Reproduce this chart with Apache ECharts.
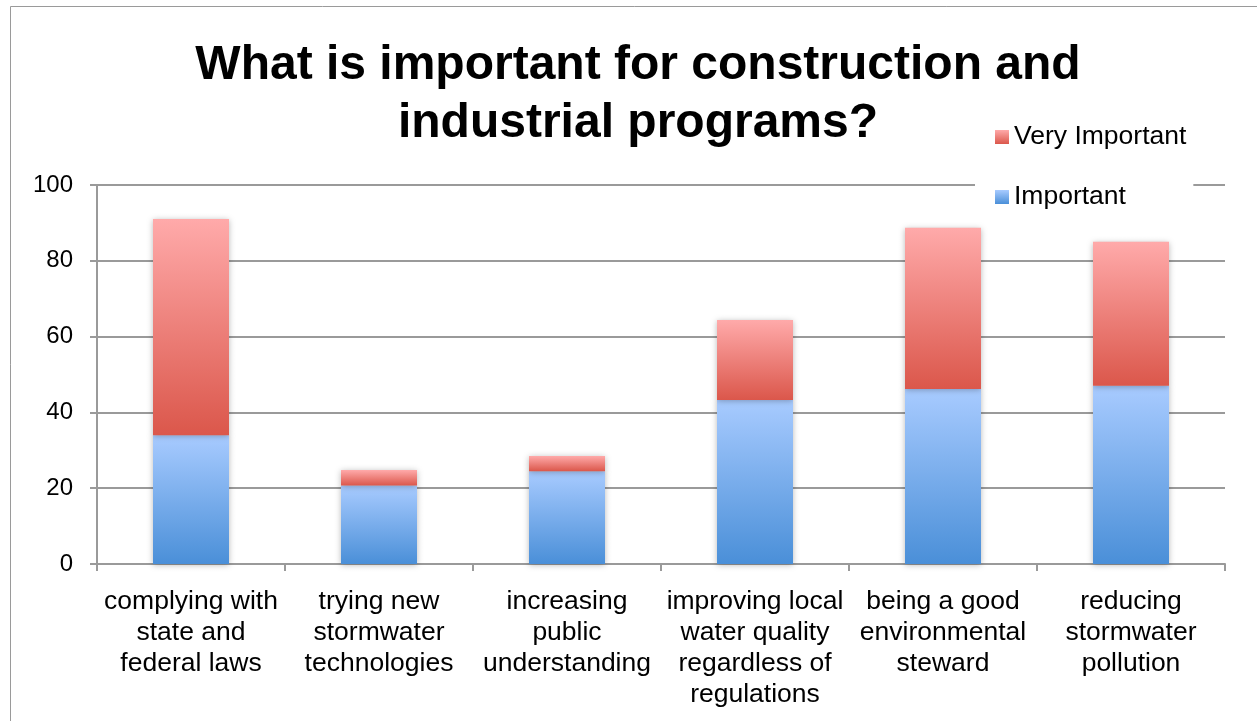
<!DOCTYPE html>
<html>
<head>
<meta charset="utf-8">
<style>
  html, body { margin: 0; padding: 0; background: #ffffff; }
  #chart { width: 1257px; height: 721px; }
</style>
<script src="https://cdn.jsdelivr.net/npm/echarts@6/dist/echarts.min.js"></script>
</head>
<body>
<div id="chart"></div>
<script>
// Survey responses (percent) for each program goal
const categories = [
  'complying with\nstate and\nfederal laws',
  'trying new\nstormwater\ntechnologies',
  'increasing\npublic\nunderstanding',
  'improving local\nwater quality\nregardless of\nregulations',
  'being a good\nenvironmental\nsteward',
  'reducing\nstormwater\npollution'
];
const important = [34, 20.7, 24.5, 43.3, 46.2, 47];
const veryImportant = [57, 4.1, 4, 21.1, 42.5, 38];
const yTicks = [0, 20, 40, 60, 80, 100];

const chart = echarts.init(document.getElementById('chart'), null, { renderer: 'canvas' });

function vGrad(top, bottom) {
  return new echarts.graphic.LinearGradient(0, 0, 0, 1, [
    { offset: 0, color: top },
    { offset: 1, color: bottom }
  ]);
}

const fontFamily = '"Liberation Sans", Arial, Helvetica, sans-serif';
const barShadow = {
  shadowBlur: 6,
  shadowColor: 'rgba(0,0,0,0.28)',
  shadowOffsetX: 0,
  shadowOffsetY: 1
};

chart.setOption({
  animation: false,
  backgroundColor: '#ffffff',
  textStyle: { fontFamily: fontFamily },
  graphic: [{
    type: 'rect',
    z: -10,
    shape: { x: 10.5, y: 6.5, width: 1300, height: 800 },
    style: { fill: 'none', stroke: '#9a9a9a', lineWidth: 1 }
  }],
  title: {
    text: 'What is important for construction and\nindustrial programs?',
    left: 633,
    textAlign: 'center',
    top: 32,
    textStyle: {
      fontFamily: fontFamily,
      fontSize: 48,
      fontWeight: 'bold',
      color: '#000000',
      lineHeight: 58
    }
  },
  legend: {
    data: ['Very Important', 'Important'],
    orient: 'vertical',
    left: 975,
    top: 117,
    padding: [6, 7, 6, 20],
    backgroundColor: '#ffffff',
    itemWidth: 14,
    itemHeight: 14,
    itemGap: 32,
    icon: 'rect',
    textStyle: { fontSize: 26.5, color: '#000000', lineHeight: 28 },
    z: 5
  },
  grid: {
    left: 97,
    right: 32,
    top: 185,
    bottom: 157,
    containLabel: false
  },
  xAxis: {
    type: 'category',
    data: categories,
    axisLine: { show: true, lineStyle: { color: '#9a9a9a', width: 2 } },
    axisTick: { show: true, length: 7, lineStyle: { color: '#9a9a9a', width: 2 } },
    axisLabel: {
      color: '#000000',
      fontSize: 26.5,
      lineHeight: 31,
      margin: 22,
      interval: 0
    }
  },
  yAxis: {
    type: 'value',
    min: yTicks[0],
    max: yTicks[yTicks.length - 1],
    interval: 20,
    axisLine: { show: true, lineStyle: { color: '#9a9a9a', width: 2 } },
    axisTick: { show: true, length: 7, lineStyle: { color: '#9a9a9a', width: 2 } },
    splitLine: { show: true, lineStyle: { color: '#9a9a9a', width: 2 } },
    axisLabel: {
      color: '#000000',
      fontSize: 24,
      margin: 24,
      formatter: function (v) { return yTicks.indexOf(v) >= 0 ? String(v) : ''; }
    }
  },
  series: [
    {
      name: 'Important',
      type: 'bar',
      stack: 'total',
      barWidth: 76,
      data: important,
      itemStyle: Object.assign({ color: vGrad('#a8cbff', '#4a8fd8') }, barShadow)
    },
    {
      name: 'Very Important',
      type: 'bar',
      stack: 'total',
      barWidth: 76,
      data: veryImportant,
      itemStyle: Object.assign({ color: vGrad('#ffaaaa', '#db574b') }, barShadow)
    }
  ]
});
</script>
</body>
</html>
